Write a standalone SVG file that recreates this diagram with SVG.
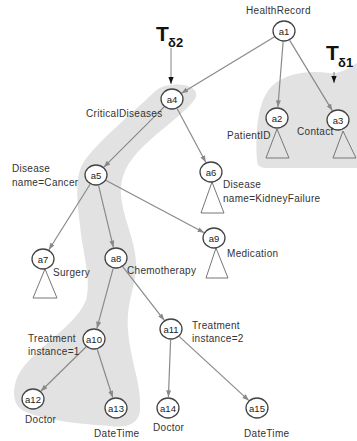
<svg xmlns="http://www.w3.org/2000/svg" width="357" height="441" viewBox="0 0 357 441">
<defs>
<marker id="ah" viewBox="0 0 8 6" refX="8" refY="3" markerWidth="7" markerHeight="5" markerUnits="userSpaceOnUse" orient="auto"><path d="M0,0 L8,3 L0,6 z" fill="#888"/></marker>
<marker id="bh" viewBox="0 0 8 6" refX="8" refY="3" markerWidth="7" markerHeight="6" markerUnits="userSpaceOnUse" orient="auto"><path d="M0,0 L8,3 L0,6 z" fill="#111"/></marker>
<style>
.bg{fill:#e2e2e2;stroke:none}
.n ellipse{fill:#fff;stroke:#444;stroke-width:1.3}
.n text{font-family:"Liberation Sans",Arial,sans-serif;font-size:9.5px;fill:#222;text-anchor:middle}
.tri{fill:none;stroke:#777;stroke-width:1}
.lbl{font-family:"Liberation Sans",Arial,sans-serif;font-size:10px;fill:#333;letter-spacing:0.3px}
.e line{stroke:#8a8a8a;stroke-width:1.2;marker-end:url(#ah)}
.T{font-family:"Liberation Sans",Arial,sans-serif;font-weight:bold;fill:#111}
</style>
</defs>
<rect width="357" height="441" fill="#fff"/>
<g id="regions">
<path class="bg" d="M257,160 C255,130 258,100 272,86 C285,73 310,70 328,73 C342,75 350,66 357,63 L357,168 L266,168 Q257,168 257,160 Z"/>
<path class="bg" d="M165,86 C180,82 199,86 196,97 C190,109 165,126 148,142 C128,160 120,175 121,195 C122,215 135,240 136,262 C137,285 126,300 128,330 C130,360 142,385 140,410 C139,425 125,428 110,426 C80,424 40,420 22,410 C10,402 12,380 25,365 C45,342 78,322 86,300 C92,280 82,250 80,225 C77,200 74,175 85,160 C100,140 130,115 150,96 C156,90 160,87 165,86 Z"/>
</g>
<g id="t-labels">
<text class="T" x="156" y="41" font-size="21">T</text>
<text class="T" x="168" y="47" font-size="13">δ2</text>
<line x1="171" y1="48" x2="171" y2="84" stroke="#666" stroke-width="0.8" marker-end="url(#bh)"/>
<text class="T" x="326" y="60" font-size="21">T</text>
<text class="T" x="338" y="67" font-size="13">δ1</text>
<line x1="334" y1="72" x2="334" y2="83" stroke="#666" stroke-width="0.8" marker-end="url(#bh)"/>
</g>
<g id="connectors" class="e">
<line x1="274.6" y1="36.7" x2="181.4" y2="93.3"/>
<line x1="283.1" y1="42" x2="277.9" y2="107"/>
<line x1="289.7" y1="40.4" x2="332.3" y2="110.6"/>
<line x1="164.2" y1="106.8" x2="103.8" y2="167.2"/>
<line x1="177.2" y1="108.7" x2="205.8" y2="162.3"/>
<line x1="90.1" y1="184.3" x2="48.9" y2="249.7"/>
<line x1="98.6" y1="185.7" x2="113.4" y2="247.3"/>
<line x1="105.7" y1="180.2" x2="204.3" y2="232.8"/>
<line x1="113.1" y1="268.6" x2="96.9" y2="328.4"/>
<line x1="122.7" y1="266.7" x2="164.3" y2="320.3"/>
<line x1="86.2" y1="346.7" x2="40.8" y2="391.3"/>
<line x1="97.3" y1="349.5" x2="112.7" y2="397.5"/>
<line x1="170.6" y1="340" x2="168.4" y2="397"/>
<line x1="179.1" y1="336.4" x2="248.9" y2="400.6"/>
</g>
<g id="subtrees">
<path class="tri" d="M277,129 L266,158 L289,158 Z"/>
<path class="tri" d="M343,131 L333,158 L356,158 Z"/>
<path class="tri" d="M45,269 L33,298 L57,298 Z"/>
<path class="tri" d="M212,182 L201,213 L224,213 Z"/>
<path class="tri" d="M216,248 L206,278 L228,278 Z"/>
</g>
<g id="a1" class="n"><ellipse cx="284" cy="31" rx="11" ry="10"/><text x="284" y="34.5">a1</text></g>
<g id="a2" class="n"><ellipse cx="277" cy="118" rx="11" ry="10"/><text x="277" y="121.5">a2</text></g>
<g id="a3" class="n"><ellipse cx="338" cy="120" rx="11" ry="10"/><text x="338" y="123.5">a3</text></g>
<g id="a4" class="n"><ellipse cx="172" cy="99" rx="11" ry="10"/><text x="172" y="102.5">a4</text></g>
<g id="a5" class="n"><ellipse cx="96" cy="175" rx="11" ry="10"/><text x="96" y="178.5">a5</text></g>
<g id="a6" class="n"><ellipse cx="211" cy="172" rx="11" ry="10"/><text x="211" y="175.5">a6</text></g>
<g id="a7" class="n"><ellipse cx="43" cy="259" rx="11" ry="10"/><text x="43" y="262.5">a7</text></g>
<g id="a8" class="n"><ellipse cx="116" cy="258" rx="11" ry="10"/><text x="116" y="261.5">a8</text></g>
<g id="a9" class="n"><ellipse cx="214" cy="238" rx="11" ry="10"/><text x="214" y="241.5">a9</text></g>
<g id="a10" class="n"><ellipse cx="94" cy="339" rx="11" ry="10"/><text x="94" y="342.5">a10</text></g>
<g id="a11" class="n"><ellipse cx="171" cy="329" rx="11" ry="10"/><text x="171" y="332.5">a11</text></g>
<g id="a12" class="n"><ellipse cx="33" cy="399" rx="11" ry="10"/><text x="33" y="402.5">a12</text></g>
<g id="a13" class="n"><ellipse cx="116" cy="408" rx="11" ry="10"/><text x="116" y="411.5">a13</text></g>
<g id="a14" class="n"><ellipse cx="168" cy="408" rx="11" ry="10"/><text x="168" y="411.5">a14</text></g>
<g id="a15" class="n"><ellipse cx="257" cy="408" rx="11" ry="10"/><text x="257" y="411.5">a15</text></g>
<g id="labels">
<text class="lbl" x="246" y="14">HealthRecord</text>
<text class="lbl" x="86" y="117">CriticalDiseases</text>
<text class="lbl" x="227" y="139">PatientID</text>
<text class="lbl" x="297" y="135">Contact</text>
<text class="lbl" x="12" y="172">Disease</text>
<text class="lbl" x="12" y="186">name=Cancer</text>
<text class="lbl" x="53" y="276">Surgery</text>
<text class="lbl" x="127" y="274">Chemotherapy</text>
<text class="lbl" x="223" y="188">Disease</text>
<text class="lbl" x="223" y="202">name=KidneyFailure</text>
<text class="lbl" x="227" y="257">Medication</text>
<text class="lbl" x="28" y="342">Treatment</text>
<text class="lbl" x="28" y="355">instance=1</text>
<text class="lbl" x="192" y="329">Treatment</text>
<text class="lbl" x="192" y="342">instance=2</text>
<text class="lbl" x="25" y="423">Doctor</text>
<text class="lbl" x="94" y="437">DateTime</text>
<text class="lbl" x="153" y="431">Doctor</text>
<text class="lbl" x="244" y="437">DateTime</text>
</g>
</svg>
